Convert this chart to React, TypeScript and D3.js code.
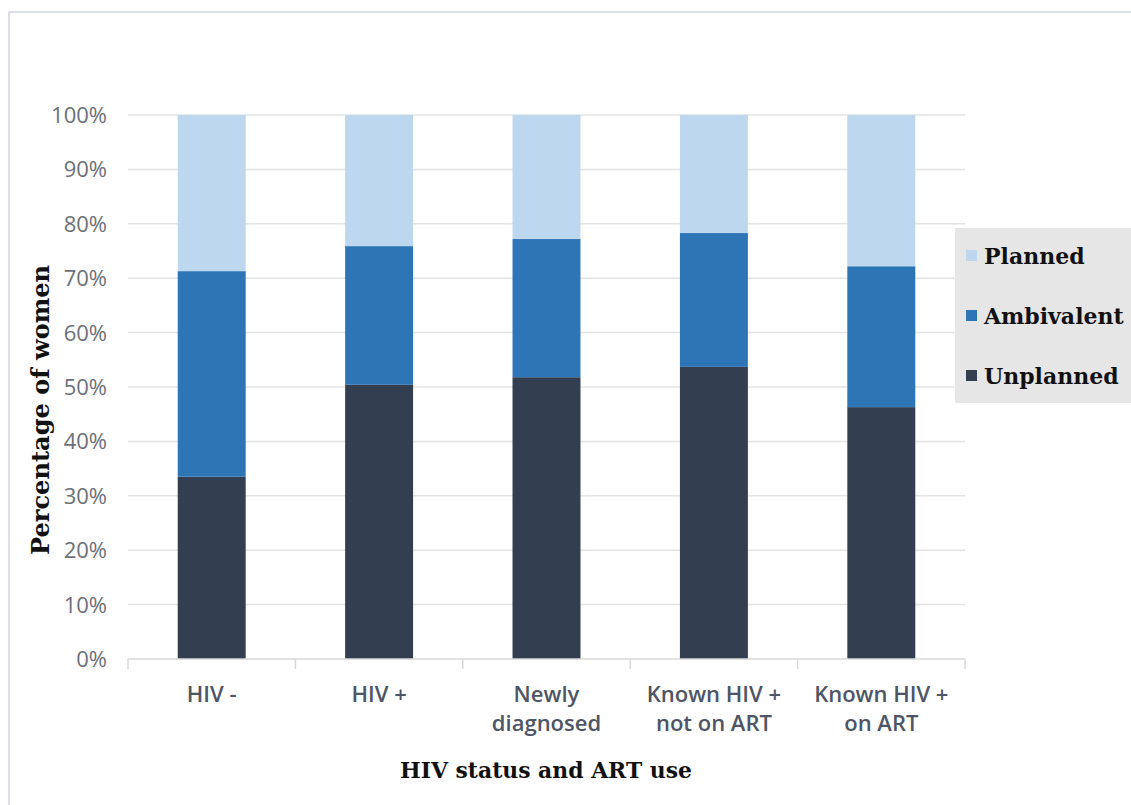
import { scaleBand, scaleLinear, stack } from 'd3'

const categories = ['HIV -', 'HIV +', 'Newly diagnosed', 'Known HIV + not on ART', 'Known HIV + on ART']
const categoryLines = [['HIV -'], ['HIV +'], ['Newly', 'diagnosed'], ['Known HIV +', 'not on ART'], ['Known HIV +', 'on ART']]
const unplanned = [33.5, 50.4, 51.8, 53.7, 46.3]
const ambivalent = [37.8, 25.5, 25.4, 24.6, 25.9]
const planned = [28.7, 24.1, 22.8, 21.7, 27.8]
const seriesKeys = ['Unplanned', 'Ambivalent', 'Planned']
const seriesColors = ['#333f50', '#2e75b6', '#bdd7ee']
const yTicks = [0, 10, 20, 30, 40, 50, 60, 70, 80, 90, 100]

const W = 1131
const H = 805
const left = 128
const right = 965
const top = 115
const bottom = 659

export default function App() {
  const rows = categories.map((c, i) => ({
    cat: c,
    Unplanned: unplanned[i],
    Ambivalent: ambivalent[i],
    Planned: planned[i],
  }))
  const series = stack<any>().keys(seriesKeys)(rows)

  const x = scaleBand<string>().domain(categories).range([left, right]).paddingInner(0.594).paddingOuter(0.297)
  const y = scaleLinear().domain([0, 100]).range([bottom, top])
  const step = x.step()

  const sans = "'Open Sans', 'Noto Sans', sans-serif"
  const serif = "'DejaVu Serif', 'Liberation Serif', serif"

  return (
    <svg width={W} height={H} style={{ position: 'absolute', left: 0, top: 0, background: '#fff' }}>
      <rect x={9} y={12} width={W} height={H} fill="#fff" stroke="#dde0ea" strokeWidth={2} />
      {yTicks.map((t) => (
        <g key={t}>
          {t > 0 && <line x1={left} x2={right} y1={y(t)} y2={y(t)} stroke="#e3e3e3" strokeWidth={1.5} />}
          <text x={107} y={y(t)} dy="0.36em" textAnchor="end" fontFamily={sans} fontSize={22} fill="#6b7079">
            {t}%
          </text>
        </g>
      ))}
      {series.map((s, si) =>
        s.map((d, i) => (
          <rect
            key={`${si}-${i}`}
            x={x(categories[i])}
            y={y(d[1])}
            width={x.bandwidth()}
            height={y(d[0]) - y(d[1])}
            fill={seriesColors[si]}
          />
        )),
      )}
      <line x1={left} x2={right} y1={bottom} y2={bottom} stroke="#d9d9d9" strokeWidth={1.5} />
      {Array.from({ length: categories.length + 1 }, (_, i) => (
        <line key={i} x1={left + i * step} x2={left + i * step} y1={bottom} y2={bottom + 10} stroke="#d9d9d9" strokeWidth={1.5} />
      ))}
      {categoryLines.map((lines, i) => (
        <text
          key={i}
          x={(x(categories[i]) ?? 0) + x.bandwidth() / 2}
          y={702}
          textAnchor="middle"
          fontFamily={sans}
          fontSize={22}
          fontWeight={600}
          fill="#4d5566"
        >
          {lines.map((l, j) => (
            <tspan key={j} x={(x(categories[i]) ?? 0) + x.bandwidth() / 2} dy={j === 0 ? 0 : 29}>
              {l}
            </tspan>
          ))}
        </text>
      ))}
      <text
        transform={`translate(49, 410) rotate(-90)`}
        textAnchor="middle"
        fontFamily={serif}
        fontWeight="bold"
        fontSize={25}
        textLength={290}
        lengthAdjust="spacingAndGlyphs"
        fill="#111"
      >
        Percentage of women
      </text>
      <text
        x={546}
        y={778}
        textAnchor="middle"
        fontFamily={serif}
        fontWeight="bold"
        fontSize={22}
        textLength={292}
        lengthAdjust="spacingAndGlyphs"
        fill="#111"
      >
        HIV status and ART use
      </text>
      <rect x={955} y={228} width={176} height={175} fill="#e7e6e6" />
      {[...seriesKeys].reverse().map((k, i) => {
        const color = seriesColors[seriesKeys.length - 1 - i]
        const cy = 256 + i * 60
        return (
          <g key={k}>
            <rect x={966} y={cy - 6} width={11} height={11} fill={color} />
            <text x={984} y={cy} dy="0.36em" fontFamily={serif} fontWeight="bold" fontSize={22} fill="#111">
              {k}
            </text>
          </g>
        )
      })}
    </svg>
  )
}
